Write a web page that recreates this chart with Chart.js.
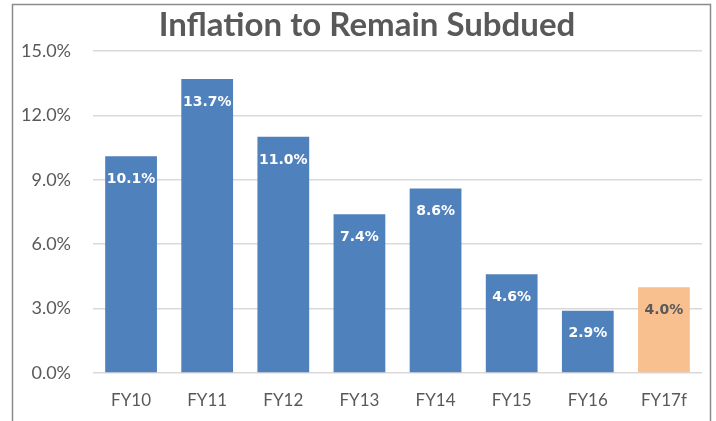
<!DOCTYPE html>
<html lang="en">
<head>
  <meta charset="UTF-8">
  <title>Inflation to Remain Subdued</title>
  <style>
    body {
      margin: 0;
      padding: 0;
      background-color: #ffffff;
    }
    .chart-container {
      position: relative;
      width: 716px;
      height: 421px;
    }
  </style>
</head>
<body>

<div class="chart-container">
  <canvas id="chart1"></canvas>
</div>

<script src="https://cdn.jsdelivr.net/npm/chart.js"></script>
<script>
  const categories = ["FY10", "FY11", "FY12", "FY13", "FY14", "FY15", "FY16", "FY17f"];
  const inflation = [10.1, 13.7, 11.0, 7.4, 8.6, 4.6, 2.9, 4.0];
  const barColors = ["#4F81BD", "#4F81BD", "#4F81BD", "#4F81BD", "#4F81BD", "#4F81BD", "#4F81BD", "#F9C08F"];
  const labelColors = ["#ffffff", "#ffffff", "#ffffff", "#ffffff", "#ffffff", "#ffffff", "#ffffff", "#595959"];
  const yTicks = [0, 3, 6, 9, 12, 15];

  // frame + title + value labels
  const decorPlugin = {
    id: 'decor',
    beforeDraw(chart) {
      const ctx = chart.ctx;
      ctx.save();
      ctx.strokeStyle = '#8c8c8c';
      ctx.lineWidth = 1.5;
      ctx.beginPath();
      ctx.moveTo(12.5, 425);
      ctx.lineTo(12.5, 4.5);
      ctx.lineTo(710.5, 4.5);
      ctx.lineTo(710.5, 425);
      ctx.stroke();
      ctx.restore();
    },
    afterDatasetsDraw(chart) {
      const ctx = chart.ctx;
      ctx.save();
      ctx.fillStyle = '#595959';
      ctx.font = 'bold 33px Lato';
      ctx.textAlign = 'center';
      ctx.textBaseline = 'middle';
      ctx.fillText('Inflation to Remain Subdued', 367, 25);

      ctx.font = 'bold 14px "DejaVu Sans"';
      const meta = chart.getDatasetMeta(0);
      meta.data.forEach((bar, i) => {
        ctx.fillStyle = labelColors[i];
        ctx.fillText(inflation[i].toFixed(1) + '%', bar.x, bar.y + 23);
      });
      ctx.restore();
    }
  };

  const ctx1 = document.getElementById('chart1').getContext('2d');
  const chart1 = new Chart(ctx1, {
    type: 'bar',
    data: {
      labels: categories,
      datasets: [{
        data: inflation,
        backgroundColor: barColors,
        borderWidth: 0,
        barPercentage: 0.68,
        categoryPercentage: 1.0
      }]
    },
    options: {
      responsive: true,
      maintainAspectRatio: false,
      animation: false,
      layout: {
        padding: { top: 51, right: 14, left: 0, bottom: 0 }
      },
      plugins: {
        legend: { display: false },
        tooltip: { enabled: false }
      },
      scales: {
        x: {
          grid: { display: false, drawTicks: false },
          border: { display: false },
          ticks: {
            color: '#595959',
            font: { family: 'Lato', size: 17 },
            padding: 17
          },
          afterFit(scale) { scale.height = 48; }
        },
        y: {
          min: 0,
          max: 15,
          afterBuildTicks(scale) {
            scale.ticks = yTicks.map(v => ({ value: v }));
          },
          grid: { color: '#d9d9d9', lineWidth: 1.5, drawTicks: false },
          border: { display: false },
          ticks: {
            color: '#595959',
            font: { family: 'Lato', size: 18 },
            padding: 22,
            callback: v => v.toFixed(1) + '%'
          },
          afterFit(scale) { scale.width = 93; }
        }
      }
    },
    plugins: [decorPlugin]
  });
</script>
</body>
</html>
